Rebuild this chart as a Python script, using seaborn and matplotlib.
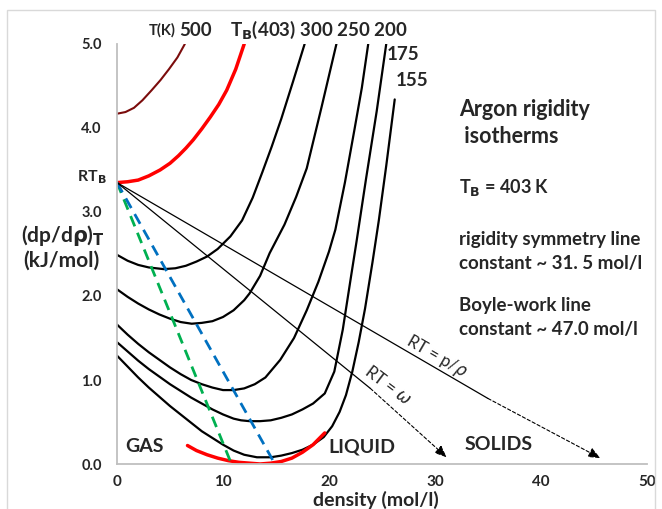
import matplotlib
matplotlib.use("Agg")
import matplotlib.pyplot as plt
import seaborn as sns
from matplotlib.patches import Rectangle

# ---- data ----
x500 = [0, 0.8, 1.6, 2.4, 3.27, 4.1, 4.9, 5.7, 6.4]
y500 = [4.17, 4.19, 4.24, 4.33, 4.45, 4.57, 4.70, 4.84, 5.0]

xTB = [0, 1, 2, 3, 4.06, 5, 5.8, 6.5, 7.2, 8.0, 8.8, 9.6, 10.35, 11.2, 12.0]
yTB = [3.35, 3.36, 3.38, 3.43, 3.50, 3.58, 3.67, 3.76, 3.86, 3.99, 4.13, 4.28, 4.45, 4.70, 5.0]

x300 = [0, 1, 2, 3, 4.4, 5.5, 6.5, 7.5, 8.5, 9.5, 10.7, 11.8, 12.8, 13.7, 14.6, 15.5, 16.6, 17.7]
y300 = [2.49, 2.42, 2.37, 2.34, 2.32, 2.33, 2.36, 2.41, 2.47, 2.56, 2.71, 2.90, 3.17, 3.47, 3.78, 4.11, 4.55, 5.0]

x250 = [0, 1, 2, 3, 4, 5, 6, 7.05, 8, 9, 10, 11, 12, 12.5, 13.5, 14.4, 15.8, 16.9, 17.9, 19.3, 20.7]
y250 = [2.08, 1.99, 1.91, 1.84, 1.78, 1.73, 1.69, 1.67, 1.68, 1.70, 1.75, 1.83, 1.95, 2.03, 2.24, 2.51, 2.85, 3.18, 3.52, 4.25, 5.0]

x200 = [0, 1, 2, 3, 4, 5, 6, 7, 8, 9, 10, 11, 12, 13, 14, 15.4, 16.7, 17.9, 19, 20, 20.6, 21.5, 22.4, 23.1, 23.7]
y200 = [1.66, 1.54, 1.43, 1.33, 1.24, 1.15, 1.07, 1.00, 0.95, 0.91, 0.88, 0.88, 0.90, 0.95, 1.03, 1.24, 1.50, 1.83, 2.17, 2.53, 2.79, 3.35, 3.98, 4.48, 5.0]

x175 = [0, 1, 2, 3, 4, 5, 6, 7, 8, 9, 10, 11, 11.7, 12.5, 13.5, 14.5, 15.5, 16.5, 17.5, 18.5, 19.6, 20.5, 21.3, 22.1, 22.6, 23.5, 24.5, 25.4]
y175 = [1.45, 1.34, 1.23, 1.13, 1.04, 0.95, 0.87, 0.79, 0.72, 0.65, 0.59, 0.54, 0.52, 0.51, 0.51, 0.52, 0.55, 0.59, 0.65, 0.72, 0.84, 1.10, 1.60, 2.25, 2.65, 3.40, 4.20, 5.0]

x155 = [0, 1, 2, 3, 4, 5, 6, 7, 8, 9, 10, 11, 12, 13.2, 14.5, 15.5, 16.5, 17.5, 18.5, 19.5, 20.3, 21, 21.6, 22.2, 22.8, 23.4, 24.1, 24.7, 25.4, 26.2]
y155 = [1.29, 1.16, 1.03, 0.91, 0.80, 0.69, 0.59, 0.49, 0.39, 0.31, 0.23, 0.16, 0.11, 0.08, 0.08, 0.10, 0.13, 0.17, 0.23, 0.32, 0.45, 0.62, 0.82, 1.10, 1.45, 1.85, 2.40, 2.90, 3.55, 4.34]

xred = [6.65, 7.5, 8.5, 9.5, 10.5, 11.5, 12.5, 13.5, 14.5, 15.5, 16.5, 17.5, 18.5, 19.6]
yred = [0.22, 0.16, 0.11, 0.07, 0.04, 0.02, 0.01, 0.0, 0.01, 0.03, 0.07, 0.14, 0.23, 0.37]

RTB = 3.35
x_green = [0, 10.8]
y_green = [RTB, 0]
x_blue = [0, 14.9]
y_blue = [RTB, 0]

x_omega = [0, 23.9]
y_omega = [RTB, 0.90]
omega_arrow = [(23.9, 0.90), (31.1, 0.08)]
x_prho = [0, 35.0]
y_prho = [RTB, 0.78]
prho_arrow = [(35.0, 0.78), (45.6, 0.07)]

xticks = [0, 10, 20, 30, 40, 50]
yticks = [0.0, 1.0, 2.0, 3.0, 4.0, 5.0]

# ---- figure ----
sns.set_theme(style="white")
plt.rcParams['font.family'] = ['Lato', 'DejaVu Sans']

fig = plt.figure(figsize=(6.62, 5.09), dpi=100)
ax = fig.add_axes([117/662, 1 - 464/509, 530/662, 420/509])

def curve(xs, ys, color, lw, ls='-'):
    sns.lineplot(x=xs, y=ys, ax=ax, color=color, lw=lw, linestyle=ls,
                 sort=False, estimator=None, legend=False)

curve(x500, y500, '#7b0c0c', 1.5)
curve(xTB, yTB, '#ff0000', 2.5)
for xs, ys in [(x300, y300), (x250, y250), (x200, y200), (x175, y175), (x155, y155)]:
    curve(xs, ys, 'black', 1.6)
curve(xred, yred, '#ff0000', 2.5)

ax.plot(x_green, y_green, color='#00b050', lw=2.0, dashes=(4, 2.5))
ax.plot(x_blue, y_blue, color='#0070c0', lw=2.0, dashes=(4, 2.5))

curve(x_omega, y_omega, 'black', 0.9)
curve(x_prho, y_prho, 'black', 0.9)
for (s, e) in [omega_arrow, prho_arrow]:
    ax.annotate('', xy=e, xytext=s,
                arrowprops=dict(arrowstyle='-|>,head_length=0.6,head_width=0.25',
                                color='black', lw=0.8, linestyle=(0, (3, 2)),
                                shrinkA=0, shrinkB=0))

ax.set_xlim(0, 50)
ax.set_ylim(0, 5)
ax.set_xticks(xticks)
ax.set_yticks(yticks)
ax.set_xticklabels([str(t) for t in xticks], fontsize=11, fontweight='bold')
ax.set_yticklabels([f"{t:.1f}" for t in yticks], fontsize=10.5, fontweight='bold')
for s in ['top', 'right']:
    ax.spines[s].set_visible(False)
for s in ['left', 'bottom']:
    ax.spines[s].set_color('#bfbfbf')
    ax.spines[s].set_linewidth(1.3)
ax.tick_params(axis='both', which='both', direction='out', length=5, width=1,
               color='#bfbfbf', pad=6)
ax.tick_params(axis='x', pad=3)

# chart border
fig.patches.append(Rectangle((7/662, -0.1), 648/662, 1 - 10/509 + 0.1,
                             transform=fig.transFigure, fill=False,
                             edgecolor='#d9d9d9', lw=1.0))

# texts
def ft(px, py, s, **kw):
    fig.text(px/662, 1 - py/509, s, **kw)

ft(376, 499.5, 'density (mol/l)', fontsize=14, fontweight='bold', va='center', ha='center')

ft(162, 30, 'T(K)', fontsize=10.5, fontweight='bold', va='center', ha='center')
ft(196, 30, '500', fontsize=13.5, fontweight='bold', va='center', ha='center')
ft(230, 30, r'T$_{\mathbf{B}}$(403) 300 250 200', fontsize=13.5, fontweight='bold',
   va='center', ha='left')
ft(387, 55, '175', fontsize=13.5, fontweight='bold', va='center', ha='left')
ft(396, 80, '155', fontsize=13.5, fontweight='bold', va='center', ha='left')
ft(107, 177, r'RT$_{\mathbf{B}}$', fontsize=11.5, fontweight='bold', va='center', ha='right')
ft(63, 236, r'(dp/d$\mathbf{\rho}$)$_{\mathbf{T}}$', fontsize=15, fontweight='bold',
   va='center', ha='center')
ft(61, 261, '(kJ/mol)', fontsize=15, fontweight='bold', va='center', ha='center')

ft(459, 109, 'Argon rigidity', fontsize=15.5, fontweight='bold', va='center')
ft(459, 136, ' isotherms', fontsize=15.5, fontweight='bold', va='center')
ft(459, 188, r'T$_{\mathbf{B}}$ = 403 K', fontsize=13, fontweight='bold', va='center')
ft(459, 239, 'rigidity symmetry line', fontsize=13.5, fontweight='bold', va='center')
ft(459, 264, 'constant ~ 31. 5 mol/l', fontsize=13.5, fontweight='bold', va='center')
ft(459, 305, 'Boyle-work line', fontsize=13.5, fontweight='bold', va='center')
ft(459, 330, 'constant ~ 47.0 mol/l', fontsize=13.5, fontweight='bold', va='center')

ft(144, 447, 'GAS', fontsize=14, fontweight='bold', va='center', ha='center')
ft(362, 447, 'LIQUID', fontsize=14, fontweight='bold', va='center', ha='center')
ft(499, 444, 'SOLIDS', fontsize=14, fontweight='bold', va='center', ha='center')

ft(437, 357, r'RT = p/$\rho$', fontsize=12, va='center', ha='center', rotation=-30)
ft(388, 385, r'RT = $\omega$', fontsize=12, va='center', ha='center', rotation=-37)

fig.savefig('out.png', dpi=100)
